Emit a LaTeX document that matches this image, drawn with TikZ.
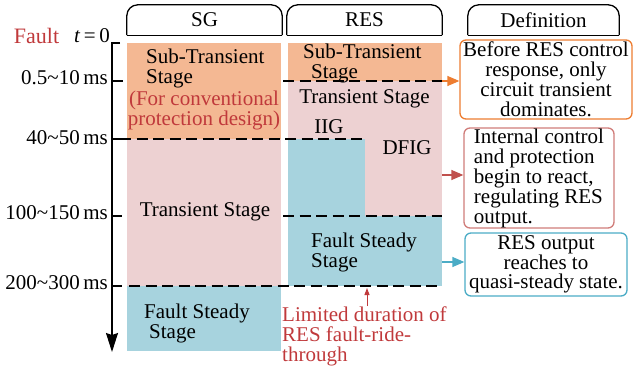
\documentclass[tikz,border=0pt]{standalone}
\usepackage{fontspec}
\setmainfont{Liberation Serif}
\usetikzlibrary{arrows.meta}
\definecolor{stOrange}{HTML}{F4B893}
\definecolor{stPink}{HTML}{EDD1D2}
\definecolor{stBlue}{HTML}{A7D3DE}
\definecolor{lnOrange}{HTML}{ED7D31}
\definecolor{lnRed}{HTML}{C0504D}
\definecolor{lnBlue}{HTML}{4BACC6}
\definecolor{txRed}{HTML}{C0393B}
\newcommand\mainsz{\fontsize{21}{20}\selectfont}

\begin{document}
\begin{tikzpicture}[x=1pt,y=-1pt,
  txt/.style={font=\mainsz, inner sep=0pt},
  tab/.style={minimum width=155pt, minimum height=30pt, inner sep=0pt, font=\mainsz},
  tabline/.style={line width=1.3pt, rounded corners=11pt},
  stageline/.style={line width=2.6pt, dash pattern=on 11pt off 5.5pt},
  defbox/.style={draw, line width=1.3pt, rounded corners=6pt, inner sep=0pt, font=\mainsz},
  defarrow/.style={line width=1.3pt, -{Triangle[length=12pt,width=10pt]}},
  axis/.style={line width=1.3pt}]
\useasboundingbox (0,0) rectangle (633,372);

% column tabs
\node[tab] (sg) at (204.5,20) {SG};
\node[tab] (res) at (364.5,20) {RES};
\node[tab, minimum width=151pt] (def) at (543.5,20) {Definition};
\foreach \t in {sg,res,def}{
  \draw[tabline] (\t.south west) -- (\t.north west) -- (\t.north east) -- (\t.south east);
  \draw[line width=1.3pt] (\t.south west) -- (\t.south east);
}

% SG column stages
\fill[stOrange] (127,43) rectangle (281,139);
\fill[stPink] (127,139) rectangle (281,286);
\fill[stBlue] (127,286) rectangle (281,351);
% RES column stages
\fill[stOrange] (288,43) rectangle (442,81);
\fill[stPink] (288,81) rectangle (442,216);
\fill[stBlue] (288,139) rectangle (365,216);
\fill[stBlue] (288,216) rectangle (442,286);

% dashed stage boundaries
\draw[stageline] (283,81) -- (442,81);
\draw[stageline] (120,139) -- (365,139);
\draw[stageline] (283,216) -- (442,216);
\draw[stageline] (129,286) -- (442,286);

% time axis with ticks
\draw[axis, -{Stealth[length=19pt,width=12pt,inset=2pt]}] (120,43) -- (112,43) -- (112,352);
\draw[axis] (112,81) -- (123,81);
\draw[axis] (112,139) -- (120,139);
\draw[axis] (112,216) -- (122,216);
\draw[axis] (112,286) -- (122,286);

% time labels
\node[txt, text=txRed, font=\fontsize{22}{20}\selectfont] (fault) at (36.5,36) {Fault};
\node[txt] (t0) at (92,36) {\textit{t}\,=\,0};
\node[txt, anchor=east] (tm1) at (108,78) {0.5\textasciitilde10\,ms};
\node[txt, anchor=east] (tm2) at (108,138) {40\textasciitilde50\,ms};
\node[txt, anchor=east] (tm3) at (108,213) {100\textasciitilde150\,ms};
\node[txt, anchor=east] (tm4) at (108,283) {200\textasciitilde300\,ms};

% SG stage texts
\node[txt, anchor=west, align=left] (sgsub) at (146,68) {Sub-Transient\\Stage};
\node[txt, text=txRed, align=center] (conv) at (204,110) {(For conventional\\protection design)};
\node[txt] (sgtr) at (205,212) {Transient Stage};
\node[txt, anchor=west, align=left] (sgfs) at (144,323) {Fault Steady\\\hspace*{5pt}Stage};

% RES stage texts
\node[txt, anchor=west, align=left] (ressub) at (303,63) {Sub-Transient\\\hspace*{8pt}Stage};
\node[txt] (restr) at (364.5,99) {Transient Stage};
\node[txt] (iig) at (329,127) {IIG};
\node[txt] (dfig) at (407,148) {DFIG};
\node[txt, anchor=west, align=left] (resfs) at (311,252) {Fault Steady\\Stage};

% definitions
\node[defbox, draw=lnOrange, minimum width=172pt, minimum height=79pt, align=center] (d1) at (546,79.5)
  {Before RES control\\response, only\\circuit transient\\dominates.};
\node[defbox, draw=lnRed!75, minimum width=150pt, minimum height=100pt, align=left] (d2) at (539,178)
  {Internal control\\and protection\\begin to react,\\regulating RES\\output.};
\node[defbox, draw=lnBlue, minimum width=162pt, minimum height=63pt, align=center, font=\fontsize{21}{19}\selectfont] (d3) at (546,264.5)
  {RES output\\reaches to\\quasi-steady state.};

\coordinate (e1) at (442,81);
\coordinate (e2) at (442,175);
\coordinate (e3) at (442,262);
\draw[defarrow, lnOrange] (e1) -- (e1 -| d1.west);
\draw[defarrow, lnRed] (e2) -- (e2 -| d2.west);
\draw[defarrow, lnBlue] (e3) -- (e3 -| d3.west);

% fault-ride-through note
\node[txt, text=txRed, anchor=west, align=left] (lim) at (282,336) {Limited duration of\\RES fault-ride-\\through};
\coordinate (limtip) at (367,288);
\draw[txRed, line width=1pt, -{Triangle[length=7pt,width=5pt]}] (limtip |- lim.north) -- (limtip);
\end{tikzpicture}
\end{document}
